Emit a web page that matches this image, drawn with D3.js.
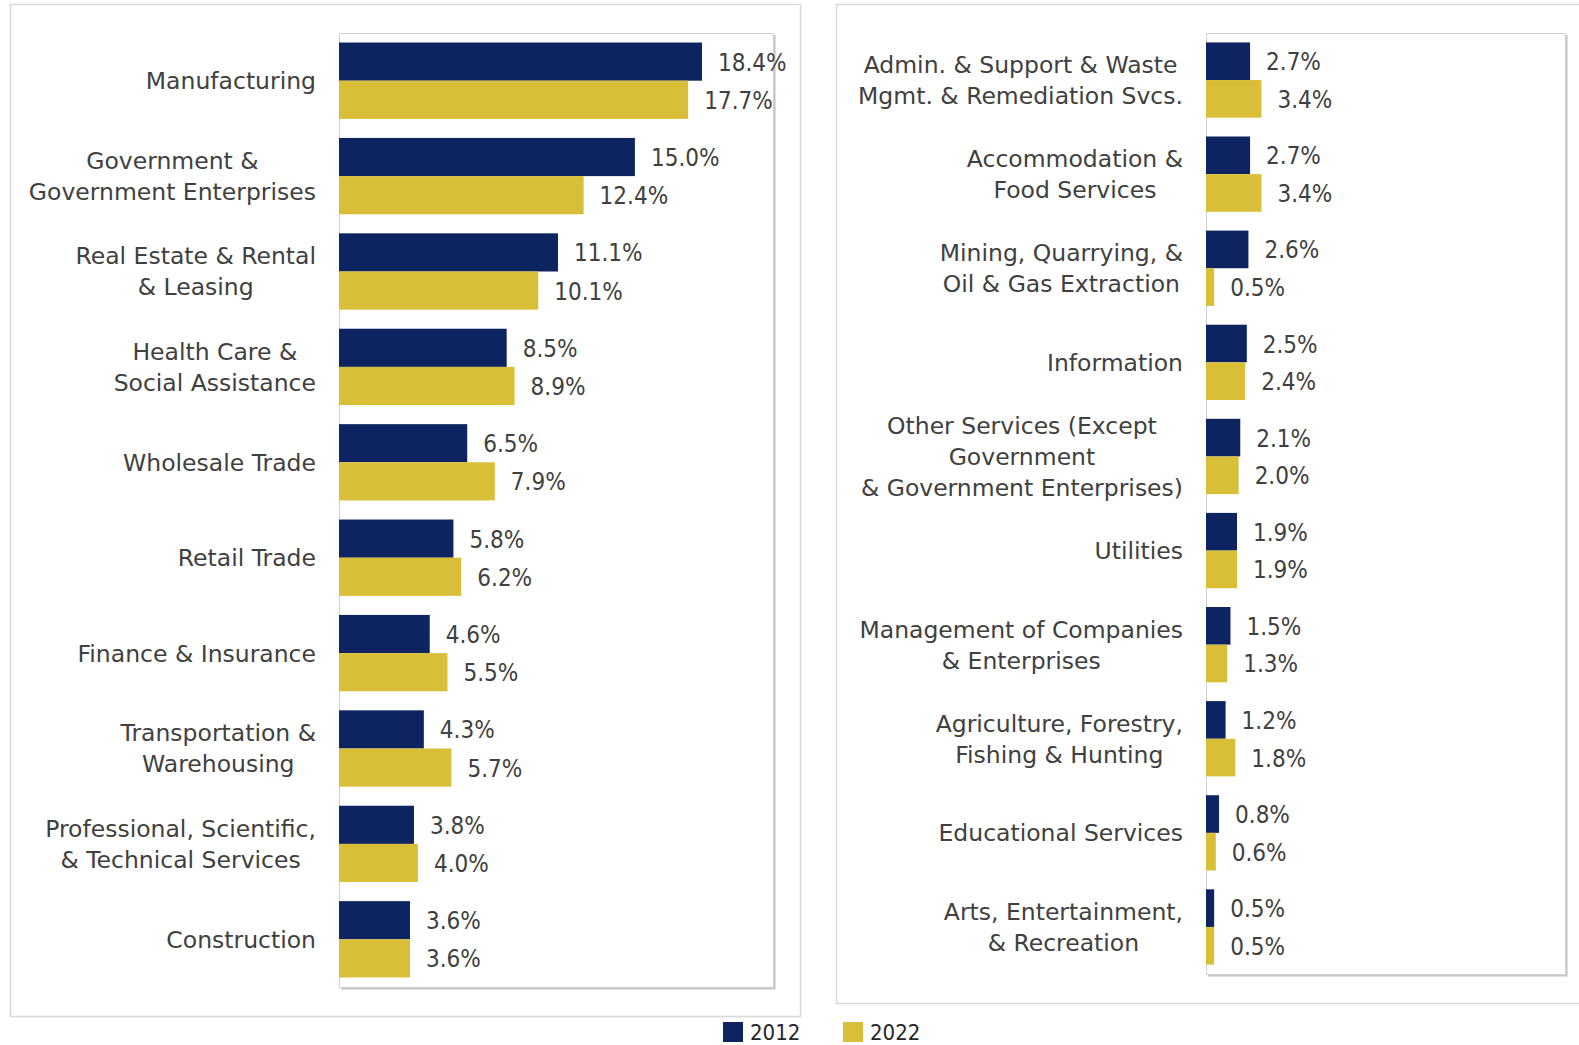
<!DOCTYPE html>
<html>
<head>
<meta charset="utf-8">
<script src="https://cdn.jsdelivr.net/npm/d3@7"></script>
<style>
  body { margin: 0; background: #fff; }
  .cat { font-family: "DejaVu Sans", sans-serif; font-size: 23.5px; fill: #404040; }
  .val { font-family: "DejaVu Sans Condensed", "DejaVu Sans", sans-serif; font-size: 24px; fill: #404040; }
  .leg { font-family: "DejaVu Sans Condensed", "DejaVu Sans", sans-serif; font-size: 22px; fill: #262626; }
</style>
</head>
<body>
<svg id="chart" width="1579" height="1045"></svg>
<script>
// categories, top to bottom ("\n" = line break in the axis label)
var leftCategories = [
    "Manufacturing",
    "Government &\nGovernment Enterprises",
    "Real Estate & Rental\n& Leasing",
    "Health Care &\nSocial Assistance",
    "Wholesale Trade",
    "Retail Trade",
    "Finance & Insurance",
    "Transportation &\nWarehousing",
    "Professional, Scientific,\n& Technical Services",
    "Construction"
];
var left2012 = [18.4, 15.0, 11.1, 8.5, 6.5, 5.8, 4.6, 4.3, 3.8, 3.6];
var left2022 = [17.7, 12.4, 10.1, 8.9, 7.9, 6.2, 5.5, 5.7, 4.0, 3.6];

var rightCategories = [
    "Admin. & Support & Waste\nMgmt. & Remediation Svcs.",
    "Accommodation &\nFood Services",
    "Mining, Quarrying, &\nOil & Gas Extraction",
    "Information",
    "Other Services (Except\nGovernment\n& Government Enterprises)",
    "Utilities",
    "Management of Companies\n& Enterprises",
    "Agriculture, Forestry,\nFishing & Hunting",
    "Educational Services",
    "Arts, Entertainment,\n& Recreation"
];
var right2012 = [2.7, 2.7, 2.6, 2.5, 2.1, 1.9, 1.5, 1.2, 0.8, 0.5];
var right2022 = [3.4, 3.4, 0.5, 2.4, 2.0, 1.9, 1.3, 1.8, 0.6, 0.5];

var years = ["2012", "2022"];
var colors = {"2012": "#0d2461", "2022": "#d9bf38"};
var xMax = 22; // hidden value axis runs 0 to 22%

var svg = d3.select("#chart");

function panel(x0, y0, x1, y1) {
    svg.append("rect")
        .attr("x", x0 + 0.5).attr("y", y0 + 0.5)
        .attr("width", x1 - x0).attr("height", y1 - y0)
        .style("fill", "#fff")
        .style("stroke", "#d9d9d9")
        .style("stroke-width", 1.5);
}

function drawChart(cats, v2012, v2022, box) {
    var g = svg.append("g");

    //plot area frame with a little shadow on right and bottom
    g.append("path")
        .attr("d", "M" + (box.x1 + 1.5) + "," + (box.y0 + 2) + "V" + (box.y1 + 1.5) + "H" + (box.x0 + 2))
        .style("fill", "none").style("stroke", "#c4c4c4").style("stroke-width", 2);
    g.append("rect")
        .attr("x", box.x0 + 0.5).attr("y", box.y0 + 0.5)
        .attr("width", box.x1 - box.x0).attr("height", box.y1 - box.y0)
        .style("fill", "#fff").style("stroke", "#d0d0d0").style("stroke-width", 1);

    var x = d3.scaleLinear().domain([0, xMax]).range([box.x0, box.x1]);
    var y = d3.scaleBand().domain(d3.range(cats.length)).range([box.y0, box.y1]).paddingInner(0.2).paddingOuter(0.1);
    var ySub = d3.scaleBand().domain(years).range([0, y.bandwidth()]);

    var rows = cats.map(function (c, i) {
        return {i: i, name: c, values: [{year: "2012", v: v2012[i]}, {year: "2022", v: v2022[i]}]};
    });

    var grp = g.selectAll(".grp").data(rows).enter().append("g")
        .attr("class", "grp")
        .attr("transform", function (d) { return "translate(0," + y(d.i) + ")"; });

    grp.selectAll("rect").data(function (d) { return d.values; }).enter().append("rect")
        .attr("x", x(0))
        .attr("y", function (d) { return ySub(d.year); })
        .attr("width", function (d) { return x(d.v) - x(0); })
        .attr("height", ySub.bandwidth())
        .style("fill", function (d) { return colors[d.year]; });

    grp.selectAll(".val").data(function (d) { return d.values; }).enter().append("text")
        .attr("class", "val")
        .attr("x", function (d) { return x(d.v) + 16; })
        .attr("y", function (d) { return ySub(d.year) + ySub.bandwidth() / 2 + 9; })
        .text(function (d) { return d.v.toFixed(1) + "%"; });

    //category labels: block right-aligned, lines centred on each other
    var lineH = 31;
    grp.each(function (d) {
        var lines = d.name.split("\n");
        var t = d3.select(this).append("text").attr("class", "cat").attr("text-anchor", "middle");
        var spans = t.selectAll("tspan").data(lines).enter().append("tspan")
            .attr("dy", function (l, k) { return k === 0 ? 0 : lineH; })
            .text(function (l) { return l; });
        var w = 0;
        spans.each(function () { w = Math.max(w, this.getComputedTextLength()); });
        var cx = box.x0 - 23 - w / 2;
        spans.attr("x", cx);
        t.attr("y", y.bandwidth() / 2 - (lines.length - 1) * lineH / 2 + 8.5);
    });
}

// outer chart panels
panel(10, 4, 800, 1016);
panel(836, 4, 1640, 1003);

drawChart(leftCategories, left2012, left2022, {x0: 339, x1: 773, y0: 33, y1: 987});
drawChart(rightCategories, right2012, right2022, {x0: 1206, x1: 1565, y0: 33, y1: 974});

// legend
var legX = d3.scalePoint().domain(years).range([723, 843]);
var leg = svg.selectAll(".legItem").data(years).enter().append("g")
    .attr("class", "legItem")
    .attr("transform", function (d) { return "translate(" + legX(d) + ",1022)"; });
leg.append("rect").attr("width", 20).attr("height", 20).style("fill", function (d) { return colors[d]; });
leg.append("text").attr("class", "leg").attr("x", 27).attr("y", 18).text(function (d) { return d; });
</script>
</body>
</html>
